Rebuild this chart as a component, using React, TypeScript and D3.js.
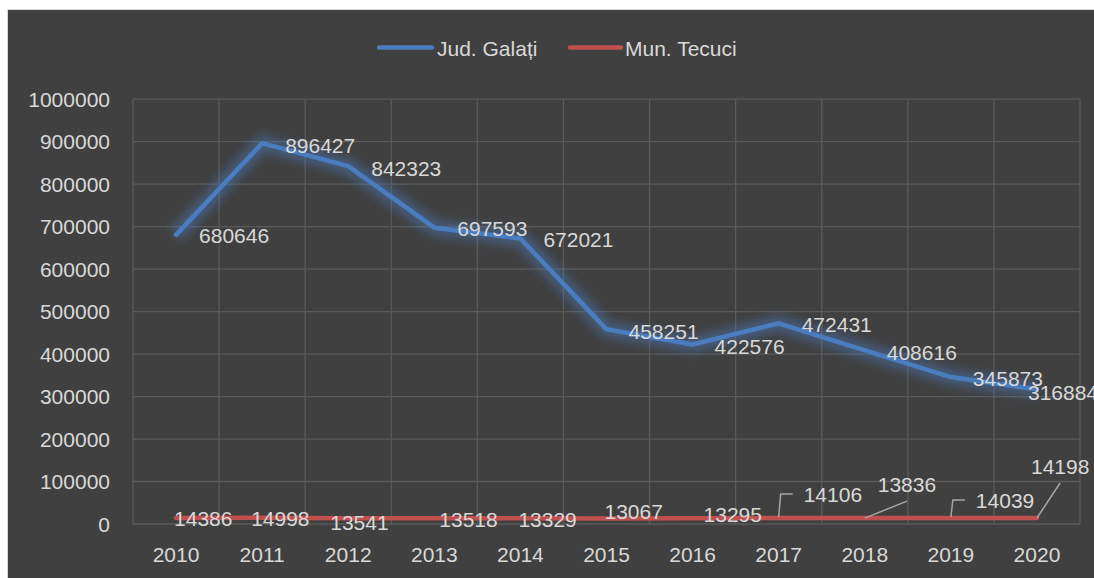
import React from "react";
import * as d3 from "d3";

const years = ["2010", "2011", "2012", "2013", "2014", "2015", "2016", "2017", "2018", "2019", "2020"];
const galati = [680646, 896427, 842323, 697593, 672021, 458251, 422576, 472431, 408616, 345873, 316884];
const tecuci = [14386, 14998, 13541, 13518, 13329, 13067, 13295, 14106, 13836, 14039, 14198];
const yTicks = [0, 100000, 200000, 300000, 400000, 500000, 600000, 700000, 800000, 900000, 1000000];
const seriesNames = ["Jud. Galați", "Mun. Tecuci"];

// label layout: offset of label left edge / vertical center from the point
const galatiLabelOffset: [number, number][] = [
  [23, 1], [23, 2], [23, 2], [23, 1], [23, 1], [22, 2], [22, 2], [23, 1], [22, 2], [22, 1], [-9, 3],
];
const tecuciLabelOffset: [number, number][] = [
  [-2, 1], [-11, 1], [-18, 4], [5, 1], [-2, 1], [-2, -7], [11, -4], [25, -24], [13, -34], [25, -18], [-6, -52],
];
// leader type: 0 none, 1 elbow, 2 diagonal
const tecuciLeader = [0, 0, 0, 0, 0, 0, 0, 1, 2, 1, 2];

const W = 1094;
const H = 578;
const BLUE = "#4a7cc0";
const RED = "#c0504d";
const TEXT = "#d9d9d9";
const GRID = "#5a5a5a";
const FONT = "'Liberation Sans', Arial, sans-serif";
const FS = 21;

export default function App() {
  const x = d3.scaleBand<string>().domain(years).range([133, 1080]).padding(0);
  const y = d3.scaleLinear().domain([0, 1000000]).range([524, 99.2]);
  const cx = (i: number) => (x(years[i]) as number) + x.bandwidth() / 2;
  const line = d3
    .line<number>()
    .x((_, i) => cx(i))
    .y((d) => y(d));

  const charW = 0.556 * FS;
  const bounds = years.map((_, i) => x(years[i]) as number).concat([1080]);

  return (
    <svg
      width={W}
      height={H}
      style={{ position: "absolute", left: 0, top: 0 }}
      fontFamily={FONT}
    >
      <defs>
        <filter id="glow" x="-10%" y="-50%" width="120%" height="200%">
          <feGaussianBlur stdDeviation="5" />
        </filter>
      </defs>
      <rect x={0} y={0} width={W} height={H} fill="#ffffff" />
      <rect x={7} y={9} width={W - 7} height={H - 9} fill="#d9d9d9" />
      <rect x={8} y={10} width={W - 8} height={H - 10} fill="#404040" />

      {/* gridlines */}
      {yTicks.map((t) => (
        <line key={"h" + t} x1={133} x2={1080} y1={y(t)} y2={y(t)} stroke={GRID} strokeWidth={1.3} />
      ))}
      {bounds.map((b, i) => (
        <line key={"v" + i} x1={b} x2={b} y1={y(1000000)} y2={y(0)} stroke={GRID} strokeWidth={1.3} />
      ))}

      {/* y tick labels */}
      {yTicks.map((t) => (
        <text key={"yt" + t} x={110} y={y(t)} dy="0.36em" textAnchor="end" fill={TEXT} fontSize={FS}>
          {t}
        </text>
      ))}
      {/* x tick labels */}
      {years.map((yr, i) => (
        <text key={"xt" + yr} x={cx(i)} y={554} dy="0.36em" textAnchor="middle" fill={TEXT} fontSize={FS}>
          {yr}
        </text>
      ))}

      {/* glow */}
      <path d={line(galati) as string} fill="none" stroke={BLUE} strokeOpacity={0.45} strokeWidth={16} strokeLinejoin="round" filter="url(#glow)" />
      <path d={line(tecuci) as string} fill="none" stroke={RED} strokeOpacity={0.35} strokeWidth={16} strokeLinejoin="round" filter="url(#glow)" />

      {/* lines */}
      <path d={line(galati) as string} fill="none" stroke={BLUE} strokeWidth={4.5} strokeLinejoin="round" strokeLinecap="round" />
      <path d={line(tecuci) as string} fill="none" stroke={RED} strokeWidth={4.5} strokeLinejoin="round" strokeLinecap="round" />

      {/* leader lines */}
      {tecuci.map((v, i) => {
        const t = tecuciLeader[i];
        if (!t) return null;
        const px = cx(i);
        const py = y(v);
        const lx = px + tecuciLabelOffset[i][0];
        const ly = py + tecuciLabelOffset[i][1];
        const w = String(v).length * charW;
        if (t === 1) {
          return (
            <polyline key={"ld" + i} points={`${px},${py - 1} ${px + 2},${ly} ${lx - 11},${ly}`} fill="none" stroke="#a6a6a6" strokeWidth={1.5} />
          );
        }
        return (
          <line key={"ld" + i} x1={px} y1={py} x2={lx + w / 2} y2={ly + 17} stroke="#a6a6a6" strokeWidth={1.5} />
        );
      })}

      {/* data labels */}
      {galati.map((v, i) => (
        <text key={"gl" + i} x={cx(i) + galatiLabelOffset[i][0]} y={y(v) + galatiLabelOffset[i][1]} dy="0.36em" fill={TEXT} fontSize={FS}>
          {v}
        </text>
      ))}
      {tecuci.map((v, i) => (
        <text key={"tl" + i} x={cx(i) + tecuciLabelOffset[i][0]} y={y(v) + tecuciLabelOffset[i][1]} dy="0.36em" fill={TEXT} fontSize={FS}>
          {v}
        </text>
      ))}

      {/* legend */}
      <line x1={379} x2={432} y1={47.5} y2={47.5} stroke={BLUE} strokeWidth={4.5} strokeLinecap="round" />
      <text x={437} y={48} dy="0.36em" fill={TEXT} fontSize={FS}>{seriesNames[0]}</text>
      <line x1={570} x2={621} y1={47.5} y2={47.5} stroke={RED} strokeWidth={4.5} strokeLinecap="round" />
      <text x={625} y={48} dy="0.36em" fill={TEXT} fontSize={FS}>{seriesNames[1]}</text>
    </svg>
  );
}
